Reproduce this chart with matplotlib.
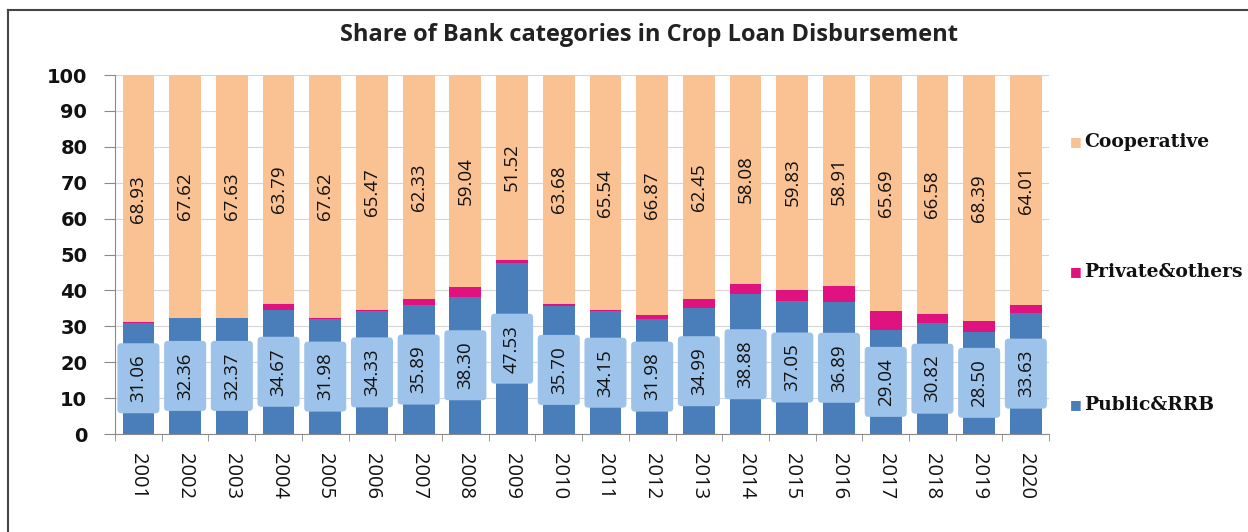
import matplotlib.pyplot as plt
from matplotlib.lines import Line2D
from matplotlib.patches import FancyBboxPatch
import numpy as np

years = [str(y) for y in range(2001, 2021)]
public_rrb = [31.06, 32.36, 32.37, 34.67, 31.98, 34.33, 35.89, 38.30, 47.53, 35.70,
              34.15, 31.98, 34.99, 38.88, 37.05, 36.89, 29.04, 30.82, 28.50, 33.63]
cooperative = [68.93, 67.62, 67.63, 63.79, 67.62, 65.47, 62.33, 59.04, 51.52, 63.68,
               65.54, 66.87, 62.45, 58.08, 59.83, 58.91, 65.69, 66.58, 68.39, 64.01]
# remainder of each year goes to private banks and others
private_others = [0.01, 0.02, 0.00, 1.54, 0.40, 0.20, 1.78, 2.66, 0.95, 0.62,
                  0.31, 1.15, 2.56, 3.04, 3.12, 4.20, 5.27, 2.60, 3.11, 2.36]

c_pub = '#4a7ebb'
c_priv = '#e0127f'
c_coop = '#fac192'
c_box = '#9ec3ea'

fig = plt.figure(figsize=(12.48, 5.32), dpi=100)
ax = fig.add_axes([0.0922, 0.1842, 0.7485, 0.6748])

x = np.arange(len(years))
w = 0.68
pub = np.array(public_rrb)
priv = np.array(private_others)
coop = np.array(cooperative)

ax.bar(x, pub, w, color=c_pub, zorder=2)
ax.bar(x, priv, w, bottom=pub, color=c_priv, zorder=2)
ax.bar(x, coop, w, bottom=pub + priv, color=c_coop, zorder=2)

# label boxes: a bit wider than the bar, sized in data units
box_w, box_h = 0.9, 19.5
aspect = 13.0
for i in range(len(years)):
    yc = pub[i] / 2
    ax.add_patch(FancyBboxPatch((x[i] - box_w / 2, yc - box_h / 2), box_w, box_h,
                                boxstyle='round,pad=0,rounding_size=0.08',
                                mutation_aspect=aspect, fc=c_box, ec='none', zorder=3))
    ax.text(x[i], yc, f'{pub[i]:.2f}', rotation=90, ha='center', va='center',
            fontsize=13.5, color='#111111', zorder=4, family='Open Sans')
    ax.text(x[i], pub[i] + priv[i] + coop[i] / 2, f'{coop[i]:.2f}', rotation=90,
            ha='center', va='center', fontsize=13.5, color='#111111', zorder=4,
            family='Open Sans')

ax.set_xlim(-0.5, len(years) - 0.5)
ax.set_ylim(0, 100)
ax.set_yticks(range(0, 101, 10))
ax.set_yticklabels([str(v) for v in range(0, 101, 10)], fontsize=14, fontweight='bold',
                   family='DejaVu Sans', color='#111111')
ax.set_xticks(x)
ax.set_xticklabels(years, rotation=270, fontsize=14.5, family='Open Sans', color='#111111')
ax.set_xticks(np.arange(-0.5, len(years)), minor=True)
ax.tick_params(axis='x', which='major', length=0, pad=14)
ax.tick_params(axis='x', which='minor', length=5, color='#8a8a8a')
ax.tick_params(axis='y', length=8, color='#8a8a8a', pad=12)
ax.yaxis.grid(True, color='#d6d6d6', lw=0.8, zorder=0)
ax.set_axisbelow(True)
for s in ['top', 'right']:
    ax.spines[s].set_visible(False)
ax.spines['left'].set_color('#8a8a8a')
ax.spines['bottom'].set_color('#8a8a8a')

fig.text(0.52, 0.935, 'Share of Bank categories in Crop Loan Disbursement', ha='center',
         va='center', fontsize=17, fontweight='bold', family='Open Sans', color='#222222')

# legend entries placed next to the matching band
legend_items = [('Cooperative', c_coop, 0.733), ('Private&others', c_priv, 0.489),
                ('Public&RRB', c_pub, 0.239)]
for label, col, yy in legend_items:
    fig.text(0.857, yy, '\u25a0', color=col, fontsize=9, va='center', ha='left')
    fig.text(0.869, yy, label, fontsize=13.5, fontweight='bold', family='DejaVu Serif',
             va='center', ha='left', color='#111111')

# chart frame
fig.add_artist(Line2D([8 / 1248, 1.0], [1 - 10 / 532, 1 - 10 / 532],
                      transform=fig.transFigure, color='#444444', lw=1.5))
fig.add_artist(Line2D([8 / 1248, 8 / 1248], [0, 1 - 10 / 532],
                      transform=fig.transFigure, color='#444444', lw=1.5))

fig.savefig('out.png', dpi=100)
